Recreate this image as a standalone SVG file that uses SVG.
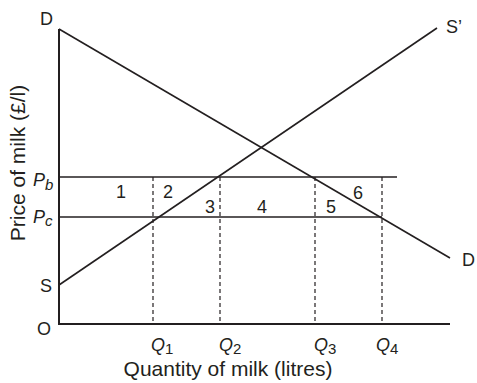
<svg xmlns="http://www.w3.org/2000/svg" width="477" height="383" viewBox="0 0 477 383">
<style>
.ax{stroke:#231f20;stroke-width:2;fill:none}
.ln{stroke:#231f20;stroke-width:1.6;fill:none}
.ds{stroke:#231f20;stroke-width:1.2;stroke-dasharray:4 3;fill:none}
text{font-family:"Liberation Sans",Arial,sans-serif;fill:#231f20}
.lb{font-size:18px}
.it{font-size:18px;font-style:italic}
.sb{font-size:15px;font-style:normal}
.si{font-size:15px;font-style:italic}
.tt{font-size:21px}
</style>
<rect width="477" height="383" fill="#fff"/>
<g id="connectors">
<path class="ax" d="M59,29 V324 H450"/>
<line id="demand" class="ln" x1="59" y1="29" x2="450" y2="258"/>
<line id="supply" class="ln" x1="59" y1="285" x2="437" y2="28"/>
<line id="pb-line" class="ln" x1="59" y1="177" x2="397" y2="177"/>
<line id="pc-line" class="ln" x1="59" y1="217" x2="382" y2="217"/>
<line class="ds" x1="153" y1="177" x2="153" y2="324"/>
<line class="ds" x1="220" y1="177" x2="220" y2="324"/>
<line class="ds" x1="315" y1="177" x2="315" y2="324"/>
<line class="ds" x1="382" y1="177" x2="382" y2="324"/>
</g>
<g id="curve-labels">
<text class="lb" x="40" y="25">D</text>
<text class="lb" x="446" y="33">S’</text>
<text class="lb" x="462" y="266">D</text>
<text class="lb" x="40" y="292">S</text>
<text class="lb" x="37" y="335">O</text>
</g>
<g id="price-labels">
<text class="it" x="33" y="186">P<tspan class="si" dy="4">b</tspan></text>
<text class="it" x="33" y="223">P<tspan class="si" dy="3">c</tspan></text>
</g>
<g id="areas">
<text class="lb" x="116" y="198">1</text>
<text class="lb" x="163" y="198">2</text>
<text class="lb" x="205" y="213">3</text>
<text class="lb" x="257" y="213">4</text>
<text class="lb" x="326" y="213">5</text>
<text class="lb" x="353" y="199">6</text>
</g>
<g id="quantity-labels">
<text class="it" x="151" y="351">Q<tspan class="sb" dy="3">1</tspan></text>
<text class="it" x="219" y="351">Q<tspan class="sb" dy="3">2</tspan></text>
<text class="it" x="314" y="351">Q<tspan class="sb" dy="3">3</tspan></text>
<text class="it" x="376" y="351">Q<tspan class="sb" dy="3">4</tspan></text>
</g>
<g id="axis-titles">
<text class="tt" x="228" y="376" text-anchor="middle">Quantity of milk (litres)</text>
<text class="tt" transform="translate(25,163) rotate(-90)" text-anchor="middle">Price of milk (£/l)</text>
</g>
</svg>
